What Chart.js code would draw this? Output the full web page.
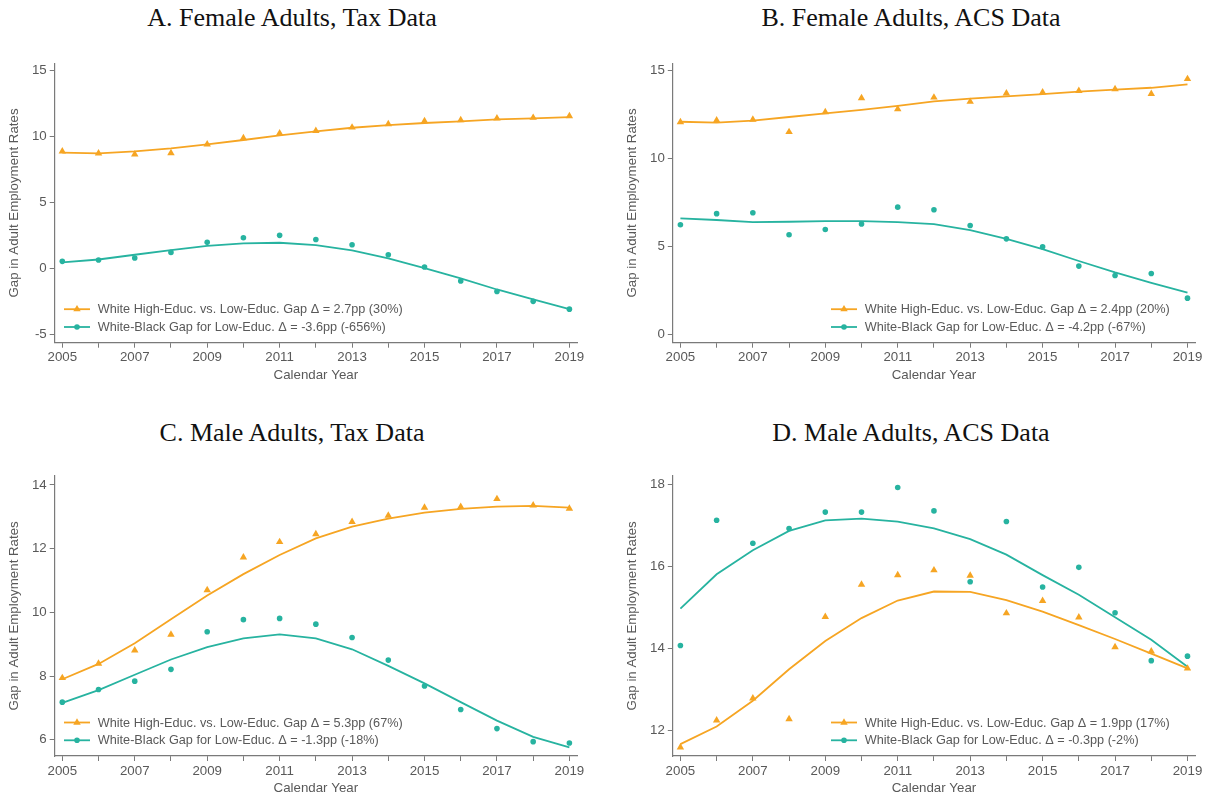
<!DOCTYPE html>
<html>
<head>
<meta charset="utf-8">
<script src="https://cdn.jsdelivr.net/npm/chart.js@4.4.1/dist/chart.umd.min.js"></script>
<style>
  body { margin: 0; background: #fff; width: 1214px; height: 798px; overflow: hidden; position: relative; }
  .panel { position: absolute; }
  .title {
    position: absolute; transform: translateX(-50%); white-space: nowrap;
    font-family: "Liberation Serif", "Times New Roman", serif; font-size: 26px; line-height: 26px; color: #111;
  }
</style>
</head>
<body>
<div class="title" style="left:292px; top:5px;">A. Female Adults, Tax Data</div>
<div class="title" style="left:911px; top:5px;">B. Female Adults, ACS Data</div>
<div class="title" style="left:292px; top:420px;">C. Male Adults, Tax Data</div>
<div class="title" style="left:911px; top:420px;">D. Male Adults, ACS Data</div>

<div class="panel" style="left:0px; top:40px; width:600px; height:345px;"><canvas id="chartA"></canvas></div>
<div class="panel" style="left:600px; top:40px; width:614px; height:345px;"><canvas id="chartB"></canvas></div>
<div class="panel" style="left:0px; top:452px; width:600px; height:346px;"><canvas id="chartC"></canvas></div>
<div class="panel" style="left:600px; top:452px; width:614px; height:346px;"><canvas id="chartD"></canvas></div>

<script>
const years = [2005, 2006, 2007, 2008, 2009, 2010, 2011, 2012, 2013, 2014, 2015, 2016, 2017, 2018, 2019];

// A. Female adults, tax data
const aHighEdPts = [8.89, 8.74, 8.66, 8.76, 9.42, 9.9, 10.25, 10.45, 10.7, 10.96, 11.19, 11.26, 11.39, 11.44, 11.57];
const aHighEdFit = [8.79, 8.74, 8.89, 9.12, 9.42, 9.75, 10.1, 10.4, 10.68, 10.88, 11.04, 11.16, 11.31, 11.39, 11.49];
const aRaceGapPts = [0.56, 0.66, 0.81, 1.24, 2.0, 2.35, 2.53, 2.22, 1.82, 1.06, 0.13, -0.93, -1.72, -2.47, -3.06];
const aRaceGapFit = [0.48, 0.7, 1.06, 1.41, 1.74, 1.92, 1.97, 1.79, 1.39, 0.78, 0.05, -0.73, -1.57, -2.32, -3.06];
const aLegend = ["White High-Educ. vs. Low-Educ. Gap \u0394 = 2.7pp (30%)", "White-Black Gap for Low-Educ. \u0394 = -3.6pp (-656%)"];
const aTicks = [-5, 0, 5, 10, 15];

// B. Female adults, ACS data
const bHighEdPts = [12.08, 12.18, 12.22, 11.52, 12.65, 13.45, 12.82, 13.48, 13.24, 13.71, 13.77, 13.86, 13.96, 13.69, 14.53];
const bHighEdFit = [12.1, 12.05, 12.16, 12.37, 12.58, 12.77, 13.0, 13.26, 13.41, 13.54, 13.67, 13.81, 13.92, 14.03, 14.22];
const bRaceGapPts = [6.25, 6.88, 6.93, 5.68, 5.98, 6.29, 7.25, 7.1, 6.21, 5.45, 5.0, 3.9, 3.37, 3.48, 2.08];
const bRaceGapFit = [6.61, 6.52, 6.4, 6.42, 6.46, 6.46, 6.4, 6.29, 5.95, 5.45, 4.87, 4.19, 3.54, 2.95, 2.39];
const bLegend = ["White High-Educ. vs. Low-Educ. Gap \u0394 = 2.4pp (20%)", "White-Black Gap for Low-Educ. \u0394 = -4.2pp (-67%)"];
const bTicks = [0, 5, 10, 15];

// C. Male adults, tax data
const cHighEdPts = [7.94, 8.39, 8.81, 9.3, 10.7, 11.73, 12.21, 12.46, 12.84, 13.04, 13.29, 13.31, 13.56, 13.36, 13.26];
const cHighEdFit = [7.9, 8.38, 9.03, 9.78, 10.53, 11.2, 11.8, 12.32, 12.69, 12.94, 13.13, 13.25, 13.32, 13.34, 13.29];
const cRaceGapPts = [7.18, 7.58, 7.84, 8.21, 9.39, 9.77, 9.81, 9.63, 9.21, 8.5, 7.69, 6.95, 6.35, 5.94, 5.9];
const cRaceGapFit = [7.16, 7.56, 8.04, 8.52, 8.91, 9.18, 9.31, 9.18, 8.84, 8.32, 7.77, 7.18, 6.6, 6.09, 5.76];
const cLegend = ["White High-Educ. vs. Low-Educ. Gap \u0394 = 5.3pp (67%)", "White-Black Gap for Low-Educ. \u0394 = -1.3pp (-18%)"];
const cTicks = [6, 8, 10, 12, 14];

// D. Male adults, ACS data
const dHighEdPts = [11.58, 12.24, 12.78, 12.27, 14.77, 15.56, 15.79, 15.91, 15.78, 14.86, 15.16, 14.76, 14.03, 13.93, 13.51];
const dHighEdFit = [11.66, 12.09, 12.72, 13.49, 14.18, 14.74, 15.17, 15.39, 15.38, 15.18, 14.9, 14.57, 14.23, 13.87, 13.51];
const dRaceGapPts = [14.07, 17.13, 16.57, 16.93, 17.33, 17.33, 17.93, 17.36, 15.63, 17.1, 15.5, 15.98, 14.87, 13.7, 13.81];
const dRaceGapFit = [14.97, 15.81, 16.4, 16.87, 17.13, 17.17, 17.1, 16.93, 16.67, 16.29, 15.79, 15.31, 14.76, 14.21, 13.55];
const dLegend = ["White High-Educ. vs. Low-Educ. Gap \u0394 = 1.9pp (17%)", "White-Black Gap for Low-Educ. \u0394 = -0.3pp (-2%)"];
const dTicks = [12, 14, 16, 18];

const ORANGE = "#f6a523";
const TEAL = "#27b3a0";
const TEXT = "#595959";
const AXIS = "#7a7a7a";
const SANS = '"Liberation Sans", Arial, Helvetica, sans-serif';

const toXY = (vals) => years.map((yr, i) => ({ x: yr, y: vals[i] }));

// legend drawn inside the plot: short line with the marker in the middle, then the text
const lineLegend = {
  id: "lineLegend",
  afterDraw(chart, args, opts) {
    const ctx = chart.ctx;
    const area = chart.chartArea;
    const x0 = area.left + opts.offsetX;
    const rows = [
      { text: opts.labels[0], color: ORANGE, marker: "triangle", up: 33.5 },
      { text: opts.labels[1], color: TEAL, marker: "circle", up: 15.7 },
    ];
    rows.forEach((row) => {
      const y = area.bottom - row.up;
      ctx.save();
      ctx.strokeStyle = row.color;
      ctx.fillStyle = row.color;
      ctx.lineWidth = 1.8;
      ctx.beginPath();
      ctx.moveTo(x0, y);
      ctx.lineTo(x0 + 26, y);
      ctx.stroke();
      const mx = x0 + 13;
      ctx.beginPath();
      if (row.marker === "triangle") {
        const r = 4.3;
        ctx.moveTo(mx, y - r);
        ctx.lineTo(mx + r * 0.866, y + r * 0.5);
        ctx.lineTo(mx - r * 0.866, y + r * 0.5);
        ctx.closePath();
      } else {
        ctx.arc(mx, y, 2.8, 0, Math.PI * 2);
      }
      ctx.fill();
      ctx.fillStyle = TEXT;
      ctx.font = "12.7px " + SANS;
      ctx.textBaseline = "middle";
      ctx.textAlign = "left";
      ctx.fillText(row.text, x0 + 33.7, y + 0.5);
      ctx.restore();
    });
  },
};

const makeChart = (id, p) => {
  const datasets = [
    {
      data: toXY(p.highFit), borderColor: ORANGE, borderWidth: 1.8,
      pointRadius: 0, showLine: true, tension: 0, order: 2,
    },
    {
      data: toXY(p.highPts), backgroundColor: ORANGE, borderWidth: 0,
      pointStyle: "triangle", pointRadius: 4.3, showLine: false, order: 1,
    },
    {
      data: toXY(p.raceFit), borderColor: TEAL, borderWidth: 1.8,
      pointRadius: 0, showLine: true, tension: 0, order: 2,
    },
    {
      data: toXY(p.racePts), backgroundColor: TEAL, borderWidth: 0,
      pointStyle: "circle", pointRadius: 2.8, showLine: false, order: 1,
    },
  ];

  const config = {
    type: "scatter",
    data: { datasets: datasets },
    options: {
      responsive: true,
      maintainAspectRatio: false,
      animation: false,
      events: [],
      layout: { padding: { top: p.padTop, right: p.padRight, left: 0, bottom: 0 } },
      plugins: {
        legend: { display: false },
        tooltip: { enabled: false },
        lineLegend: { labels: p.legend, offsetX: p.legendX },
      },
      scales: {
        x: {
          type: "linear",
          min: 2004.79,
          max: 2019.21,
          afterBuildTicks: (scale) => { scale.ticks = years.map((v) => ({ value: v })); },
          afterFit: (scale) => { scale.height = p.xAxisHeight; },
          grid: { display: true, drawOnChartArea: false, drawTicks: true, tickLength: 5, color: AXIS, lineWidth: 1 },
          border: { display: true, color: AXIS, width: 1.2 },
          ticks: {
            autoSkip: false, maxRotation: 0, padding: 2, color: TEXT,
            font: { family: SANS, size: 13.3 },
            callback: (v) => (v % 2 === 1 ? String(v) : ""),
          },
          title: {
            display: true, text: "Calendar Year", color: TEXT,
            font: { family: SANS, size: 13.3 }, padding: { top: 0, bottom: 2 },
          },
        },
        y: {
          min: p.yMin,
          max: p.yMax,
          afterBuildTicks: (scale) => { scale.ticks = p.yTicks.map((v) => ({ value: v })); },
          afterFit: (scale) => { scale.width = p.yAxisWidth; },
          grid: { display: true, drawOnChartArea: false, drawTicks: true, tickLength: 5, color: AXIS, lineWidth: 1 },
          border: { display: true, color: AXIS, width: 1.2 },
          ticks: {
            padding: 3, color: TEXT,
            font: { family: SANS, size: 13.3 },
            callback: (v) => String(v),
          },
          title: {
            display: true, text: "Gap in Adult Employment Rates", color: TEXT,
            font: { family: SANS, size: 13.3 }, padding: { top: p.yTitlePad, bottom: 0 },
          },
        },
      },
    },
    plugins: [lineLegend],
  };
  return new Chart(document.getElementById(id), config);
};

window.onload = () => {
  makeChart("chartA", {
    highPts: aHighEdPts, highFit: aHighEdFit, racePts: aRaceGapPts, raceFit: aRaceGapFit,
    legend: aLegend, yTicks: aTicks, yMin: -5.6, yMax: 15.56,
    padTop: 23.3, padRight: 23, yAxisWidth: 54.7, xAxisHeight: 42.3, yTitlePad: 6.4, legendX: 9.3,
  });
  makeChart("chartB", {
    highPts: bHighEdPts, highFit: bHighEdFit, racePts: bRaceGapPts, raceFit: bRaceGapFit,
    legend: bLegend, yTicks: bTicks, yMin: -0.45, yMax: 15.42,
    padTop: 23.3, padRight: 18.9, yAxisWidth: 72.8, xAxisHeight: 42.3, yTitlePad: 24.7, legendX: 158.2,
  });
  makeChart("chartC", {
    highPts: cHighEdPts, highFit: cHighEdFit, racePts: cRaceGapPts, raceFit: cRaceGapFit,
    legend: cLegend, yTicks: cTicks, yMin: 5.49, yMax: 14.29,
    padTop: 23.7, padRight: 23, yAxisWidth: 54.7, xAxisHeight: 42, yTitlePad: 6.4, legendX: 9.3,
  });
  makeChart("chartD", {
    highPts: dHighEdPts, highFit: dHighEdFit, racePts: dRaceGapPts, raceFit: dRaceGapFit,
    legend: dLegend, yTicks: dTicks, yMin: 11.37, yMax: 18.22,
    padTop: 23.7, padRight: 18.9, yAxisWidth: 72.8, xAxisHeight: 42, yTitlePad: 24.7, legendX: 158.2,
  });
};
</script>
</body>
</html>
